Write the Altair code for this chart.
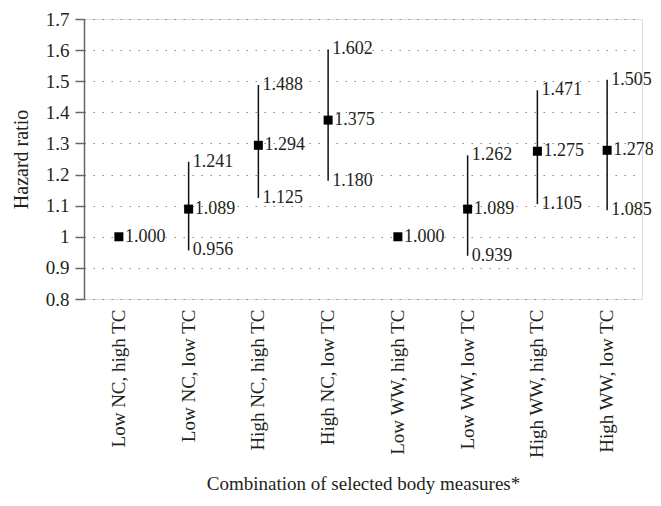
import altair as alt
import pandas as pd

categories = ["Low NC, high TC", "Low NC, low TC", "High NC, high TC", "High NC, low TC",
              "Low WW, high TC", "Low WW, low TC", "High WW, high TC", "High WW, low TC"]
hr = [1.000, 1.089, 1.294, 1.375, 1.000, 1.089, 1.275, 1.278]
lower = [None, 0.956, 1.125, 1.180, None, 0.939, 1.105, 1.085]
upper = [None, 1.241, 1.488, 1.602, None, 1.262, 1.471, 1.505]
yticks = [0.8, 0.9, 1.0, 1.1, 1.2, 1.3, 1.4, 1.5, 1.6, 1.7]

df = pd.DataFrame({"cat": categories, "hr": hr, "lower": lower, "upper": upper})

FONT = "Liberation Serif"
TXT = "#231f20"
FS = 19

x = alt.X("cat:N", sort=categories, title="Combination of selected body measures*",
          scale=alt.Scale(paddingInner=0, paddingOuter=0),
          axis=alt.Axis(labelAngle=-90, labelAlign="right", labelBaseline="middle",
                        labelPadding=10, ticks=False, domain=False, grid=False,
                        labelFont=FONT, labelFontSize=FS, labelColor=TXT,
                        titleFont=FONT, titleFontSize=19, titleColor=TXT,
                        titleFontWeight="normal", titlePadding=16, labelLimit=300))
yscale = alt.Scale(domain=[0.8, 1.7], nice=False, zero=False)
yaxis = alt.Axis(values=yticks, labelOverlap=False, tickCount=10,
                 labelExpr="format(datum.value, '~g')",
                 grid=True, gridDash=[1.5, 7.5], gridColor="#888", gridWidth=1,
                 domainColor="#666", domainWidth=1.5, tickColor="#666",
                 tickWidth=1.5, tickSize=9, labelPadding=6,
                 labelFont=FONT, labelFontSize=FS, labelColor=TXT,
                 titleFont=FONT, titleFontSize=20, titleColor=TXT,
                 titleFontWeight="normal", titlePadding=14)


def Y(field):
    return alt.Y(field, scale=yscale, title="Hazard ratio", axis=yaxis)


base = alt.Chart(df)
valid = base.transform_filter("isValid(datum.lower)")

rules = valid.mark_rule(color="#111", strokeWidth=1.5).encode(
    x=x, y=Y("lower:Q"), y2="upper:Q")

pts = base.mark_square(size=81, color="#000", opacity=1, filled=True).encode(
    x=x, y=Y("hr:Q"))

tstyle = dict(font=FONT, fontSize=18, color=TXT, align="left", baseline="middle")

t_hr = base.mark_text(dx=6, **tstyle).encode(
    x=x, y=Y("hr:Q"), text=alt.Text("hr:Q", format=".3f"))
t_up = valid.mark_text(dx=4, **tstyle).encode(
    x=x, y=Y("upper:Q"), text=alt.Text("upper:Q", format=".3f"))
t_lo = valid.mark_text(dx=4, **tstyle).encode(
    x=x, y=Y("lower:Q"), text=alt.Text("lower:Q", format=".3f"))

chart = alt.layer(rules, pts, t_hr, t_up, t_lo).properties(
    width=558, height=280,
    autosize=alt.AutoSizeParams(type="none"),
    padding={"left": 76, "top": 11, "right": 11, "bottom": 199},
).configure_view(stroke=None).configure(background="white")

chart.save("out.html", embed_options={"renderer": "svg", "actions": False})
